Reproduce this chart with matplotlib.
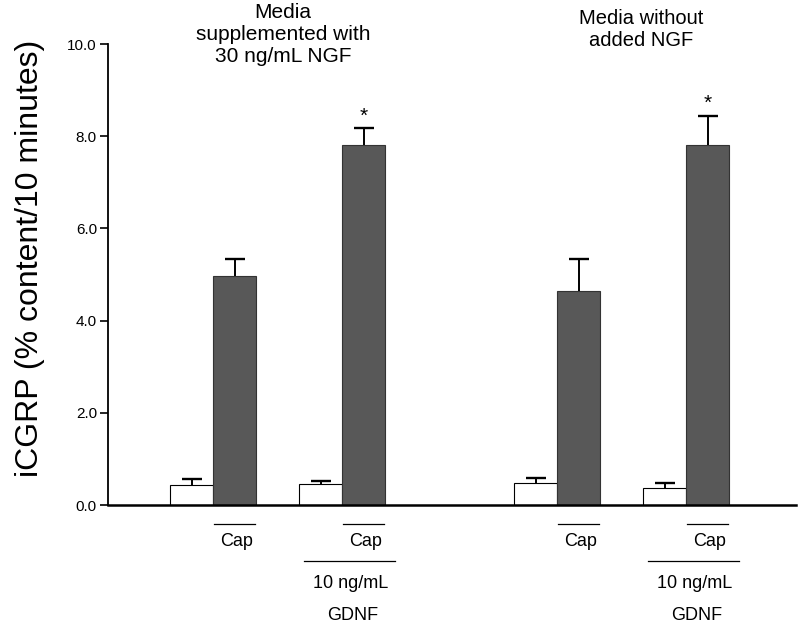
import matplotlib.pyplot as plt
import numpy as np

plt.rcParams['font.family'] = ['Liberation Sans', 'DejaVu Sans']

# values
basal = [0.43, 0.45, 0.47, 0.36]
basal_err = [0.13, 0.08, 0.12, 0.11]
capsaicin = [4.97, 7.80, 4.65, 7.80]
capsaicin_err = [0.37, 0.37, 0.69, 0.64]
signif = [False, True, False, True]
yticks = [0, 2, 4, 6, 8, 10]
titles = ["Media\nsupplemented with\n30 ng/mL NGF", "Media without\nadded NGF"]

pos_white = np.array([0, 3, 8, 11])
pos_dark = pos_white + 1

fig = plt.figure(figsize=(8, 6.29), dpi=100)
ax = fig.add_axes([0.135, 0.197, 0.86, 0.733])

ax.bar(pos_white, basal, width=1.0, color="white", edgecolor="black", linewidth=0.8)
ax.bar(pos_dark, capsaicin, width=1.0, color="#585858", edgecolor="#333333", linewidth=0.8)

# one-sided error bars (upper only)
for pos, val, err in [(pos_white, basal, basal_err), (pos_dark, capsaicin, capsaicin_err)]:
    top = np.array(val) + np.array(err)
    ax.vlines(pos, val, top, color="black", lw=1.4)
    ax.plot(pos, top, ls="none", marker="_", markersize=15, mew=1.7, color="black")

for x, y, e, s in zip(pos_dark, capsaicin, capsaicin_err, signif):
    if s:
        ax.text(x, y + e + 0.06, "*", ha="center", va="bottom", fontsize=15)

ax.set_xlim(-1.95, 14.05)
ax.set_ylim(0, 10)
ax.set_yticks(yticks)
ax.set_yticklabels(["%.1f" % t for t in yticks], fontsize=11)
ax.set_xticks([])
ax.tick_params(axis="y", direction="out", length=6, width=1.2, pad=2)
ax.spines["top"].set_visible(False)
ax.spines["right"].set_visible(False)
ax.spines["left"].set_linewidth(1.3)
ax.spines["bottom"].set_linewidth(1.8)
ax.set_ylabel("iCGRP (% content/10 minutes)", fontsize=23)
ax.yaxis.set_label_coords(-0.092, 0.535)

# treatment labels under the axis
for x in pos_dark:
    ax.plot([x - 0.48, x + 0.48], [-0.4, -0.4], color="black", lw=0.9, clip_on=False)
    ax.text(x + 0.05, -0.78, "Cap", ha="center", va="center", fontsize=13)
for x in [pos_dark[1], pos_dark[3]]:
    ax.plot([x - 1.4, x + 0.73], [-1.22, -1.22], color="black", lw=0.9, clip_on=False)
    ax.text(x - 0.3, -1.7, "10 ng/mL", ha="center", va="center", fontsize=13)
    ax.text(x - 0.25, -2.4, "GDNF", ha="center", va="center", fontsize=13)

ax.text(2.12, 10.9, titles[0], ha="center", va="top", fontsize=15,
        linespacing=1.2)
ax.text(10.44, 10.76, titles[1], ha="center", va="top", fontsize=14.5,
        linespacing=1.2)

fig.savefig("out.png", dpi=100)
